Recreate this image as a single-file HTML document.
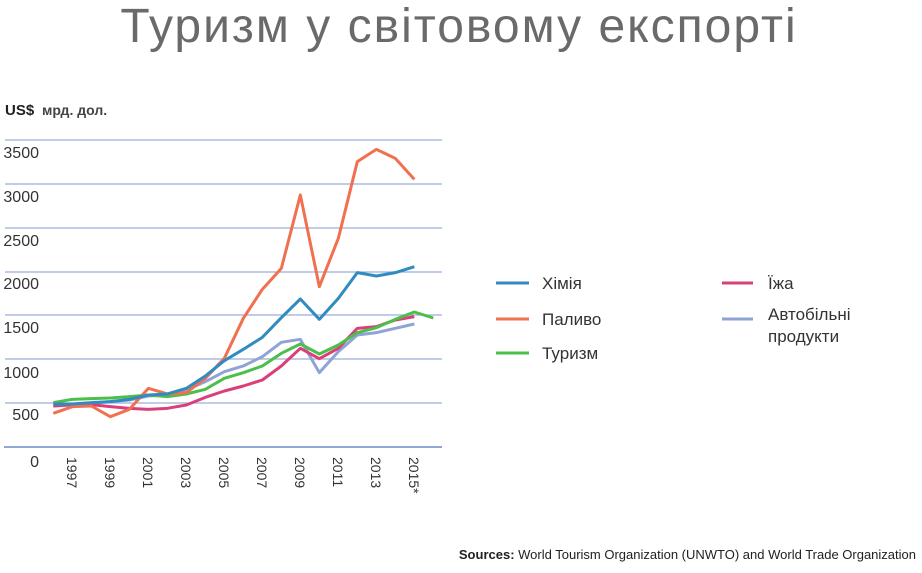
<!DOCTYPE html>
<html><head><meta charset="utf-8"><style>
body{margin:0;background:#fff;width:922px;height:568px;overflow:hidden;font-family:"Liberation Sans",sans-serif;}
</style></head><body>
<svg width="922" height="568" viewBox="0 0 922 568" xmlns="http://www.w3.org/2000/svg" font-family="Liberation Sans, sans-serif">
<text x="459" y="42" text-anchor="middle" font-size="48" letter-spacing="2" fill="#6a6a6a">Туризм у світовому експорті</text>
<text x="5" y="115" font-size="15" font-weight="bold" fill="#222">US$</text>
<text x="42" y="115" font-size="14" font-weight="bold" fill="#444">мрд. дол.</text>
<g stroke="#9aaedb" stroke-width="1.3">
<line x1="5" x2="442" y1="140" y2="140"/><line x1="5" x2="442" y1="184" y2="184"/>
<line x1="5" x2="442" y1="228" y2="228"/><line x1="5" x2="442" y1="272" y2="272"/>
<line x1="5" x2="442" y1="315" y2="315"/><line x1="5" x2="442" y1="359" y2="359"/>
<line x1="5" x2="442" y1="403" y2="403"/></g>
<line x1="4" x2="442" y1="447" y2="447" stroke="#6f8cc6" stroke-width="1.6"/>
<g font-size="16" fill="#333" text-anchor="end">
<text x="39" y="158">3500</text><text x="39" y="202">3000</text><text x="39" y="246">2500</text>
<text x="39" y="289">2000</text><text x="39" y="333">1500</text><text x="39" y="378">1000</text>
<text x="39" y="420">500</text><text x="39" y="467">0</text></g>
<g font-size="14" fill="#333">
<text transform="translate(67 457) rotate(90)">1997</text>
<text transform="translate(105 457) rotate(90)">1999</text>
<text transform="translate(143 457) rotate(90)">2001</text>
<text transform="translate(181 457) rotate(90)">2003</text>
<text transform="translate(219 457) rotate(90)">2005</text>
<text transform="translate(257 457) rotate(90)">2007</text>
<text transform="translate(295 457) rotate(90)">2009</text>
<text transform="translate(333 457) rotate(90)">2011</text>
<text transform="translate(371 457) rotate(90)">2013</text>
<text transform="translate(409 457) rotate(90)">2015*</text></g>
<g transform="translate(0 90) scale(0.33333)" fill="none" stroke-width="9" stroke-linejoin="round">
<polyline stroke="#8fa3d4" points="160,948 217,945 274,940 331,935 388,930 445,918 502,915 559,900 616,875 673,845 730,828 787,800 844,757 901,748 958,848 1015,785 1072,735 1129,728 1186,715 1243,702"/>
<polyline stroke="#d9407a" points="160,948 217,944 274,944 331,950 388,955 445,958 502,955 559,945 616,922 673,903 730,888 787,870 844,828 901,775 958,806 1015,775 1072,715 1129,710 1186,690 1243,680"/>
<polyline stroke="#4cbf4a" points="160,938 217,928 274,926 331,924 388,920 445,915 502,920 559,912 616,898 673,865 730,848 787,828 844,790 901,762 958,792 1015,765 1072,728 1129,713 1186,688 1243,666 1300,684"/>
<polyline stroke="#f07050" points="160,970 217,950 274,948 331,980 388,958 445,895 502,912 559,908 616,865 673,805 730,685 787,598 844,535 901,315 958,590 1015,445 1072,215 1129,178 1186,205 1243,268"/>
<polyline stroke="#2f8bc0" points="160,942 217,942 274,938 331,935 388,928 445,915 502,912 559,895 616,858 673,812 730,778 787,742 844,683 901,627 958,688 1015,625 1072,548 1129,558 1186,548 1243,530"/>
</g>
<g stroke-width="3">
<line x1="496" x2="529" y1="283" y2="283" stroke="#2f8bc0"/>
<line x1="496" x2="529" y1="319" y2="319" stroke="#f07050"/>
<line x1="496" x2="529" y1="353" y2="353" stroke="#4cbf4a"/>
<line x1="722" x2="753" y1="283" y2="283" stroke="#d9407a"/>
<line x1="722" x2="753" y1="319" y2="319" stroke="#8fa3d4"/></g>
<g font-size="17" fill="#333">
<text x="542" y="289">Хімія</text><text x="542" y="325">Паливо</text><text x="542" y="359">Туризм</text>
<text x="768" y="289">Їжа</text><text x="768" y="320">Автобільні</text><text x="768" y="342">продукти</text></g>
<text x="916" y="559" text-anchor="end" font-size="13" fill="#222"><tspan font-weight="bold">Sources: </tspan>World Tourism Organization (UNWTO) and World Trade Organization</text>
</svg>
</body></html>
